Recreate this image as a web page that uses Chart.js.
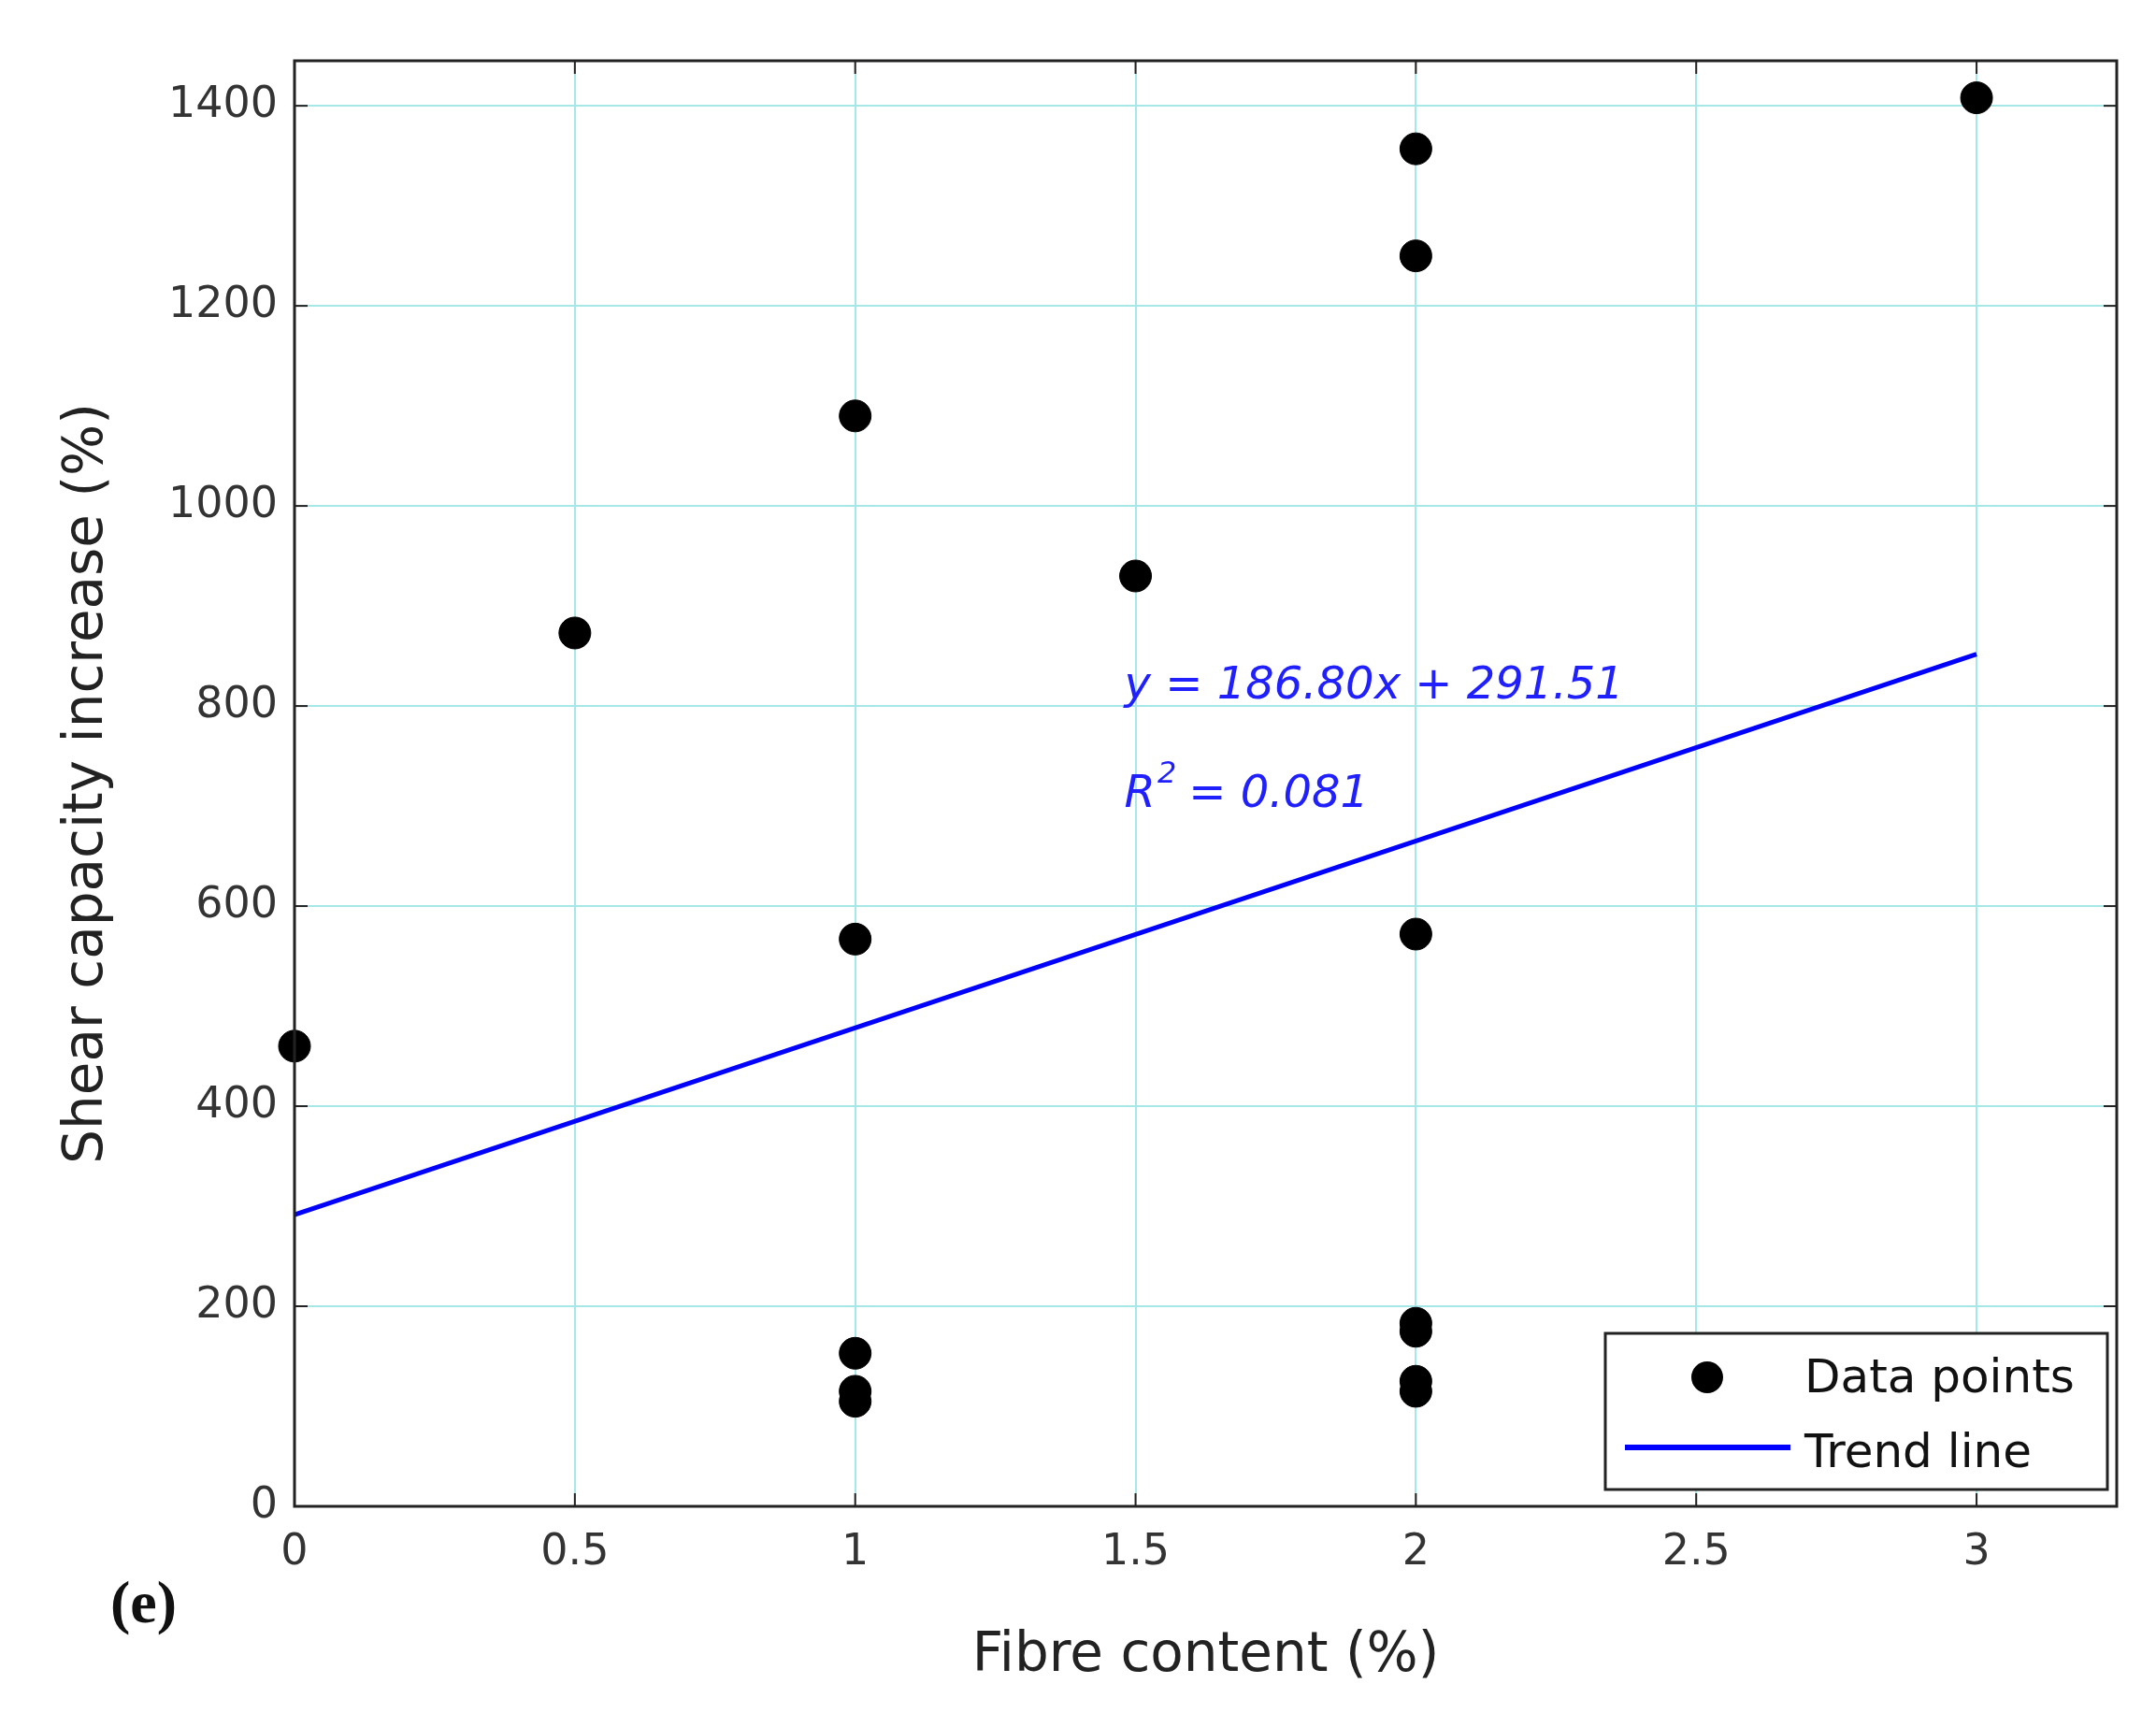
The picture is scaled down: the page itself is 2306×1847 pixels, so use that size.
<!DOCTYPE html>
<html>
<head>
<meta charset="utf-8">
<script src="https://cdn.jsdelivr.net/npm/chart.js@4"></script>
<style>
  html, body { margin: 0; padding: 0; background: #fff; }
  #wrap { width: 2306px; height: 1847px; }
</style>
</head>
<body>
<div id="wrap"><canvas id="c"></canvas></div>
<script>
// data
var fibreContent = [0, 0.5, 1, 1, 1, 1, 1, 1.5, 2, 2, 2, 2, 2, 2, 2, 3];
var shearIncrease = [460, 873, 1090, 567, 153, 115, 105, 930, 1357, 1250, 572, 183, 175, 125, 115, 1408];
var trendX = [0, 3];
var slope = 186.80, intercept = 291.51;
var trendY = trendX.map(function (x) { return slope * x + intercept; });
var xTicks = [0, 0.5, 1, 1.5, 2, 2.5, 3];
var yTicks = [0, 200, 400, 600, 800, 1000, 1200, 1400];

var tickFont = { family: 'DejaVu Sans', size: 46 };

var frame = {
    id: 'frame',
    afterDraw: function (chart) {
        var a = chart.chartArea, ctx = chart.ctx;
        ctx.save();
        ctx.strokeStyle = '#222';
        ctx.lineWidth = 3;
        ctx.strokeRect(a.left, a.top, a.right - a.left, a.bottom - a.top);
        // tick marks on all sides
        var xs = chart.scales.x, ys = chart.scales.y;
        ctx.lineWidth = 2;
        xTicks.forEach(function (v) {
            var p = xs.getPixelForValue(v);
            ctx.beginPath(); ctx.moveTo(p, a.bottom); ctx.lineTo(p, a.bottom - 14); ctx.stroke();
            ctx.beginPath(); ctx.moveTo(p, a.top); ctx.lineTo(p, a.top + 14); ctx.stroke();
        });
        yTicks.forEach(function (v) {
            var p = ys.getPixelForValue(v);
            ctx.beginPath(); ctx.moveTo(a.left, p); ctx.lineTo(a.left + 14, p); ctx.stroke();
            ctx.beginPath(); ctx.moveTo(a.right, p); ctx.lineTo(a.right - 14, p); ctx.stroke();
        });
        // equation
        ctx.fillStyle = '#2020ff';
        ctx.font = 'italic 48px DejaVu Sans';
        ctx.textBaseline = 'middle';
        var tx = xs.getPixelForValue(1.48);
        ctx.fillText('y = 186.80x + 291.51', tx, ys.getPixelForValue(819));
        var ry = ys.getPixelForValue(711);
        ctx.fillText('R', tx, ry);
        var rw = ctx.measureText('R').width;
        ctx.font = 'italic 32px DejaVu Sans';
        ctx.fillText('2', tx + rw + 2, ry - 22);
        ctx.font = 'italic 48px DejaVu Sans';
        ctx.fillText(' = 0.081', tx + rw + 20, ry);
        // legend
        ctx.fillStyle = '#fff';
        ctx.fillRect(1717, 1426, 537, 167);
        ctx.strokeStyle = '#222'; ctx.lineWidth = 3;
        ctx.strokeRect(1717, 1426, 537, 167);
        ctx.fillStyle = '#000';
        ctx.beginPath(); ctx.arc(1826, 1473, 17, 0, Math.PI * 2); ctx.fill();
        ctx.strokeStyle = '#0000ff'; ctx.lineWidth = 6;
        ctx.beginPath(); ctx.moveTo(1738, 1548); ctx.lineTo(1915, 1548); ctx.stroke();
        ctx.fillStyle = '#111';
        ctx.font = '50px DejaVu Sans';
        ctx.fillText('Data points', 1930, 1476);
        ctx.fillText('Trend line', 1930, 1556);
        // panel label
        ctx.font = 'bold 64px Liberation Serif';
        ctx.fillText('(e)', 118, 1718);
        ctx.restore();
    }
};

new Chart(document.getElementById('c'), {
    type: 'scatter',
    data: {
        datasets: [
            {
                label: 'Data points',
                data: fibreContent.map(function (x, i) { return { x: x, y: shearIncrease[i] }; }),
                backgroundColor: '#000',
                borderColor: '#000',
                pointRadius: 17,
                pointHoverRadius: 17
            },
            {
                label: 'Trend line',
                type: 'line',
                data: trendX.map(function (x, i) { return { x: x, y: trendY[i] }; }),
                borderColor: '#0000ff',
                borderWidth: 5,
                pointRadius: 0,
                fill: false
            }
        ]
    },
    options: {
        responsive: true,
        maintainAspectRatio: false,
        animation: false,
        clip: false,
        layout: { padding: { left: 55, top: 65, right: 42, bottom: 0 } },
        plugins: { legend: { display: false }, tooltip: { enabled: false } },
        scales: {
            x: {
                type: 'linear', min: 0, max: 3.25,
                afterBuildTicks: function (s) { s.ticks = xTicks.map(function (v) { return { value: v }; }); },
                afterFit: function (s) { s.height = 236; },
                grid: { color: '#a6e8e8', lineWidth: 2, drawTicks: false },
                border: { display: false },
                ticks: { font: tickFont, color: '#333', padding: 22, callback: function (v) { return String(v); } },
                title: { display: true, text: 'Fibre content (%)', font: { family: 'DejaVu Sans', size: 58 }, color: '#222', padding: { top: 0, bottom: 40 } }
            },
            y: {
                type: 'linear', min: 0, max: 1445,
                afterBuildTicks: function (s) { s.ticks = yTicks.map(function (v) { return { value: v }; }); },
                afterFit: function (s) { s.width = 260; },
                grid: { color: '#a6e8e8', lineWidth: 2, drawTicks: false },
                border: { display: false },
                ticks: { font: tickFont, color: '#333', padding: 18, callback: function (v) { return String(v); } },
                title: { display: true, text: 'Shear capacity increase (%)', font: { family: 'DejaVu Sans', size: 58 }, color: '#222', padding: { bottom: 6 } }
            }
        }
    },
    plugins: [frame]
});
</script>
</body>
</html>
